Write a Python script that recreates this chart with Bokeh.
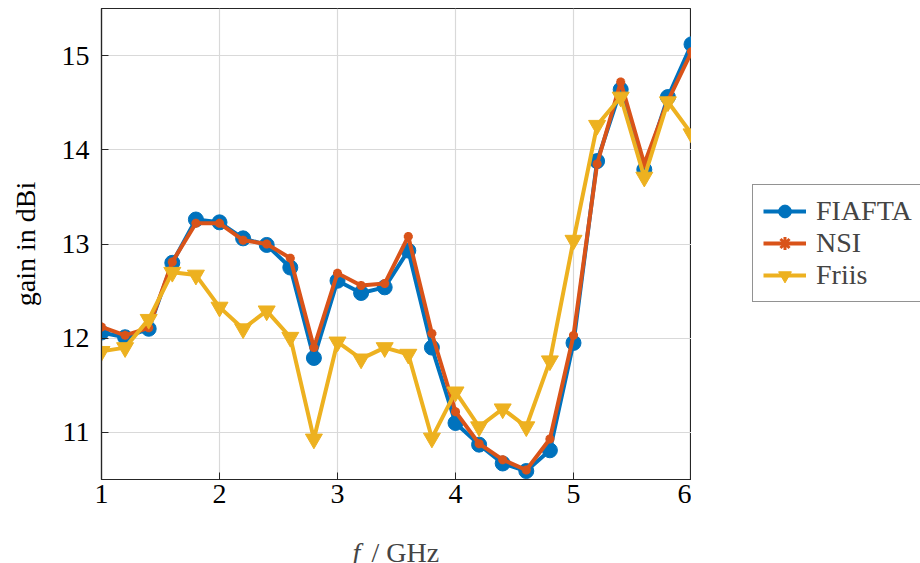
from bokeh.plotting import figure
from bokeh.layouts import column, row
from bokeh.models import Legend, LegendItem, Label, FixedTicker, Range1d
from bokeh.embed import file_html
from bokeh.resources import INLINE

freq = [1.0, 1.2, 1.4, 1.6, 1.8, 2.0, 2.2, 2.4, 2.6, 2.8, 3.0, 3.2, 3.4, 3.6, 3.8,
        4.0, 4.2, 4.4, 4.6, 4.8, 5.0, 5.2, 5.4, 5.6, 5.8, 6.0]
fiafta = [12.06, 12.01, 12.10, 12.80, 13.26, 13.23, 13.06, 12.99, 12.75, 11.79, 12.61,
          12.48, 12.54, 12.93, 11.90, 11.10, 10.87, 10.67, 10.59, 10.81, 11.95,
          13.88, 14.64, 13.79, 14.56, 15.12]
nsi = [12.12, 12.03, 12.11, 12.81, 13.22, 13.22, 13.04, 13.00, 12.85, 11.90, 12.69,
       12.56, 12.58, 13.08, 12.05, 11.22, 10.88, 10.71, 10.60, 10.93, 12.03,
       13.85, 14.72, 13.85, 14.52, 15.04]
friis = [11.86, 11.90, 12.20, 12.70, 12.67, 12.33, 12.10, 12.29, 12.01, 10.93, 11.96,
         11.78, 11.90, 11.83, 10.94, 11.43, 11.06, 11.25, 11.06, 11.76, 13.04,
         14.26, 14.56, 13.71, 14.51, 14.17]
x_ticks = [1, 2, 3, 4, 5, 6]
y_ticks = [11, 12, 13, 14, 15]
series_names = ["FIAFTA", "NSI", "Friis"]

BLUE = "#0072BD"
ORANGE = "#D95319"
YELLOW = "#EDB120"
FONT = "'Liberation Serif'"
FS = "28px"

STYLES = [
    dict(color=BLUE, marker="circle", size=15, lw=1),
    dict(color=ORANGE, marker="asterisk", size=9, lw=3),
    dict(color=YELLOW, marker="inverted_triangle", size=17, lw=1),
]
SERIES = [fiafta, nsi, friis]

p = figure(frame_width=590, frame_height=471, output_backend="svg", toolbar_location=None,
           x_range=Range1d(1, 6), y_range=Range1d(10.5, 15.5),
           min_border_left=101, min_border_right=0, min_border_top=8, min_border_bottom=41)
p.outline_line_color = "#262626"
p.outline_line_width = 1.2

for ax, ticks in ((p.xaxis[0], x_ticks), (p.yaxis[0], y_ticks)):
    ax.ticker = FixedTicker(ticks=ticks)
    ax.major_label_text_font = FONT
    ax.major_label_text_font_size = FS
    ax.major_label_text_color = "black"
    ax.axis_line_color = "#262626"
    ax.axis_line_width = 1.2
    ax.major_tick_in = 7
    ax.major_tick_out = 0
    ax.major_tick_line_color = "#262626"
    ax.minor_tick_line_color = None
p.yaxis.major_label_standoff = 12
p.xaxis.major_label_standoff = 5
p.yaxis.axis_label = "gain in dBi"
p.yaxis.axis_label_text_font = FONT
p.yaxis.axis_label_text_font_size = FS
p.yaxis.axis_label_text_font_style = "normal"
p.yaxis.axis_label_text_color = "black"
p.yaxis.axis_label_standoff = 18

p.grid.grid_line_color = "#d9d9d9"
p.grid.grid_line_width = 1.2

for ys, st in zip(SERIES, STYLES):
    p.line(freq, ys, line_color=st["color"], line_width=4)
    p.scatter(freq, ys, marker=st["marker"], size=st["size"], fill_color=st["color"],
              line_color=st["color"], line_width=st["lw"])

# x-axis label with italic "f" drawn in a strip below the plot (frame aligned with p)
p2 = figure(frame_width=590, frame_height=43, output_backend="svg", toolbar_location=None,
            x_axis_type=None, y_axis_type=None, x_range=Range1d(0, 1), y_range=Range1d(0, 1),
            min_border_left=101, min_border_right=0, min_border_top=0, min_border_bottom=0)
p2.outline_line_color = None
p2.grid.visible = False
p2.add_layout(Label(x=251, y=11, x_units="screen", y_units="screen", text="f",
                    text_font=FONT, text_font_size=FS, text_font_style="italic",
                    text_align="left", text_baseline="alphabetic"))
p2.add_layout(Label(x=270, y=11, x_units="screen", y_units="screen", text="/ GHz",
                    text_font=FONT, text_font_size=FS,
                    text_align="left", text_baseline="alphabetic"))

# legend panel to the right of the plot; its renderers use the same data, but the
# ranges keep them outside the visible frame so only the legend swatches show
p3 = figure(frame_width=229, frame_height=471, output_backend="svg", toolbar_location=None,
            x_axis_type=None, y_axis_type=None, x_range=Range1d(-2, -1), y_range=Range1d(0, 1),
            min_border_left=0, min_border_right=0, min_border_top=8, min_border_bottom=41)
p3.outline_line_color = None
p3.grid.visible = False
items = []
for name, ys, st in zip(series_names, SERIES, STYLES):
    rl = p3.line(freq, ys, line_color=st["color"], line_width=4)
    rm = p3.scatter(freq, ys, marker=st["marker"], size=st["size"], fill_color=st["color"],
                    line_color=st["color"], line_width=st["lw"])
    items.append(LegendItem(label=name, renderers=[rl, rm]))
legend = Legend(items=items, location=(61, 177))
legend.label_text_font = FONT
legend.label_text_font_size = FS
legend.border_line_color = "#262626"
legend.border_line_width = 1.2
legend.glyph_width = 43
legend.glyph_height = 32
legend.label_height = 32
legend.spacing = 0
legend.padding = 10
legend.margin = 0
legend.label_standoff = 10
legend.background_fill_alpha = 1
p3.add_layout(legend, "center")

layout = row(column(p, p2, spacing=0), p3, spacing=0)
open("out.html", "w").write(file_html(layout, INLINE))
